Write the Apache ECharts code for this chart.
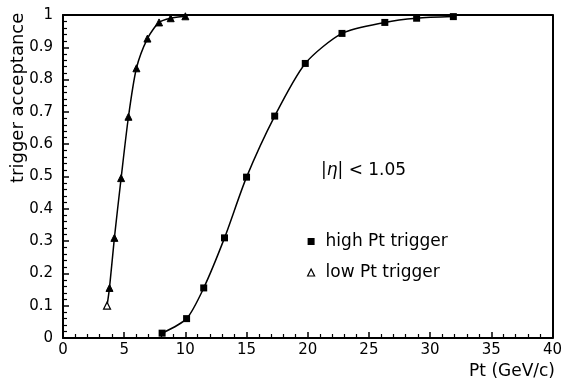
<!DOCTYPE html>
<html>
<head>
<meta charset="utf-8">
<script src="https://cdn.jsdelivr.net/npm/echarts@6/dist/echarts.min.js"></script>
<style>
  html, body { margin: 0; padding: 0; background: #fff; }
  #chartDiv { width: 565px; height: 382px; }
</style>
</head>
<body>
<div id="chartDiv"></div>
<script>
// low Pt trigger (triangles)
const lowPt = [3.6, 3.8, 4.2, 4.75, 5.35, 6.0, 6.9, 7.85, 8.8, 10.0];
const lowAcc = [0.10, 0.155, 0.31, 0.495, 0.685, 0.835, 0.927, 0.977, 0.99, 0.996];

// high Pt trigger (squares)
const highPt = [8.1, 10.1, 11.5, 13.2, 15.0, 17.3, 19.8, 22.8, 26.3, 28.9, 31.9];
const highAcc = [0.015, 0.06, 0.155, 0.31, 0.498, 0.687, 0.85, 0.943, 0.977, 0.99, 0.995];

const xTicks = [0, 5, 10, 15, 20, 25, 30, 35, 40];
const yTicks = [0, 0.1, 0.2, 0.3, 0.4, 0.5, 0.6, 0.7, 0.8, 0.9, 1];

const font = 'DejaVu Sans';

const chart = echarts.init(document.getElementById('chartDiv'));

const option = {
  animation: false,
  backgroundColor: '#fff',
  grid: { left: 63, right: 10, top: 15, bottom: 44 },
  xAxis: [
    {
      type: 'value',
      min: xTicks[0],
      max: xTicks[xTicks.length - 1],
      interval: 5,
      axisLine: { show: true, onZero: false, lineStyle: { color: '#000', width: 2 } },
      axisTick: { show: true, inside: true, length: 6, lineStyle: { color: '#000', width: 1.5 } },
      minorTick: { show: true, splitNumber: 5, length: 4, lineStyle: { color: '#000', width: 1.2 } },
      axisLabel: { color: '#000', fontFamily: font, fontSize: 15, margin: 5 },
      splitLine: { show: false }
    },
    {
      type: 'value',
      position: 'top',
      min: 0, max: 40,
      axisLine: { show: true, onZero: false, lineStyle: { color: '#000', width: 2 } },
      axisTick: { show: false },
      axisLabel: { show: false },
      splitLine: { show: false }
    }
  ],
  yAxis: [
    {
      type: 'value',
      min: 0,
      max: 1,
      interval: 0.1,
      axisLine: { show: true, onZero: false, lineStyle: { color: '#000', width: 2 } },
      axisTick: { show: true, inside: true, length: 6, lineStyle: { color: '#000', width: 1.5 } },
      minorTick: { show: true, splitNumber: 5, length: 4, lineStyle: { color: '#000', width: 1.2 } },
      axisLabel: {
        color: '#000', fontFamily: font, fontSize: 15, margin: 10,
        formatter: v => (yTicks.indexOf(+v.toFixed(1)) >= 0 ? String(+v.toFixed(1)) : '')
      },
      splitLine: { show: false }
    },
    {
      type: 'value',
      position: 'right',
      min: 0, max: 1,
      axisLine: { show: true, onZero: false, lineStyle: { color: '#000', width: 2 } },
      axisTick: { show: false },
      axisLabel: { show: false },
      splitLine: { show: false }
    }
  ],
  legend: {
    orient: 'vertical',
    left: 302,
    top: 228,
    itemGap: 14,
    itemWidth: 7,
    itemHeight: 7,
    textStyle: { color: '#000', fontFamily: font, fontSize: 17, padding: [0, 0, 0, 6] },
    data: [
      { name: 'high Pt trigger', icon: 'rect' },
      { name: 'low Pt trigger', icon: 'triangle', itemStyle: { color: '#fff', borderColor: '#000', borderWidth: 1.2 } }
    ]
  },
  graphic: [
    {
      type: 'text',
      left: 321,
      top: 162,
      style: {
        text: '{n||}{e|\u03b7}{n|| < 1.05}',
        fill: '#000',
        font: '17px "' + font + '"',
        rich: {
          n: { fontFamily: font, fontSize: 17, fill: '#000' },
          e: { fontFamily: font, fontSize: 17, fontStyle: 'italic', fill: '#000' }
        }
      }
    },
    {
      type: 'text',
      right: 10,
      top: 363,
      style: { text: 'Pt (GeV/c)', fill: '#000', font: '17px "' + font + '"' }
    },
    {
      type: 'text',
      x: 9,
      y: 183,
      rotation: Math.PI / 2,
      style: { text: 'trigger acceptance', fill: '#000', font: '18px "' + font + '"', textAlign: 'left', textVerticalAlign: 'top' }
    }
  ],
  series: [
    {
      name: 'high Pt trigger',
      type: 'line',
      smooth: 0.25,
      symbol: 'rect',
      symbolSize: 7,
      itemStyle: { color: '#000' },
      lineStyle: { color: '#000', width: 1.5 },
      data: highPt.map((x, i) => [x, highAcc[i]])
    },
    {
      name: 'low Pt trigger',
      type: 'line',
      smooth: 0.25,
      symbol: 'triangle',
      symbolSize: 7,
      itemStyle: { color: '#000', borderColor: '#000' },
      lineStyle: { color: '#000', width: 1.5 },
      // first point is drawn hollow in the original
      data: lowPt.map((x, i) => i === 0
        ? { value: [x, lowAcc[i]], itemStyle: { color: '#fff', borderColor: '#000', borderWidth: 1.2 } }
        : [x, lowAcc[i]])
    }
  ]
};

chart.setOption(option);
</script>
</body>
</html>
